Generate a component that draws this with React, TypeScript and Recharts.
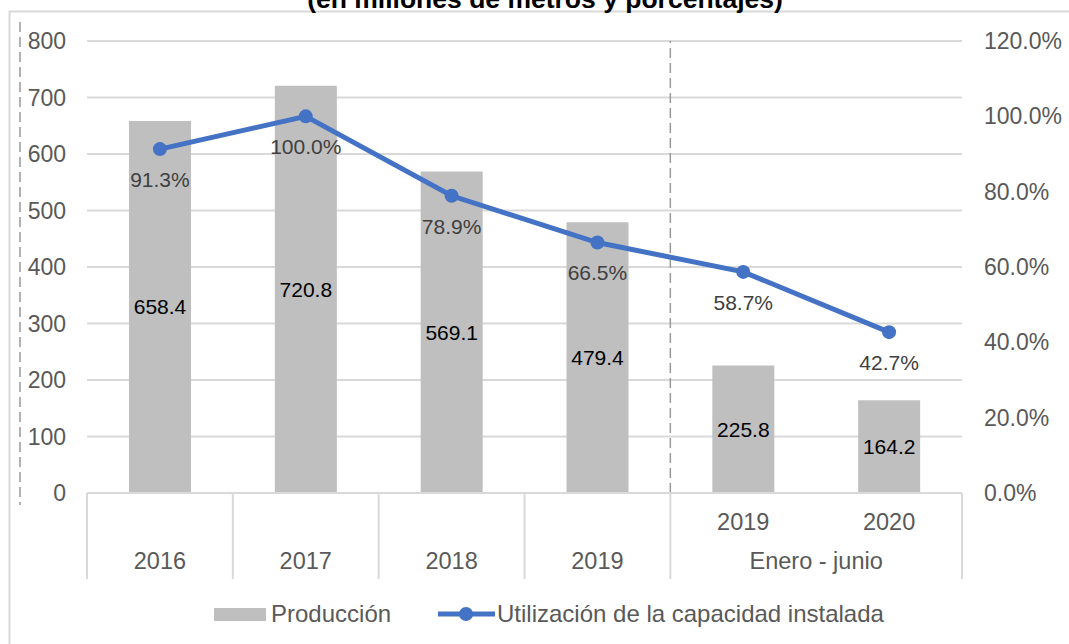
import React from 'react';
import {
  ComposedChart,
  Bar,
  Line,
  XAxis,
  YAxis,
  CartesianGrid,
  LabelList,
  ReferenceLine,
} from 'recharts';

const title = '(en millones de metros y porcentajes)';
const groupLabels = ['2016', '2017', '2018', '2019', 'Enero - junio', 'Enero - junio'];
const subLabels = ['', '', '', '', '2019', '2020'];
const produccion = [658.4, 720.8, 569.1, 479.4, 225.8, 164.2];
const utilizacion = [91.3, 100.0, 78.9, 66.5, 58.7, 42.7];
const leftTicks = [0, 100, 200, 300, 400, 500, 600, 700, 800];
const rightTicks = [0, 20, 40, 60, 80, 100, 120];
const barName = 'Producción';
const lineName = 'Utilización de la capacidad instalada';
const splitIndex = 4;

const data = groupLabels.map((g, i) => ({
  key: `${g}|${subLabels[i]}|${i}`,
  prod: produccion[i],
  util: utilizacion[i],
}));

const FONT = '"Liberation Sans", Arial, sans-serif';
const AXIS_COLOR = '#595959';
const GRID = '#d9d9d9';
const BAR = '#bfbfbf';
const LINE = '#4472c4';

const MultiTick = (props: any) => {
  const { x, y, payload } = props;
  const i = payload.index;
  const half = payload.offset || 72.9;
  const g = groupLabels[i];
  const isFirst = i === 0 || groupLabels[i - 1] !== g;
  const isLast = i === groupLabels.length - 1;
  let count = 0;
  if (isFirst) {
    for (let j = i; j < groupLabels.length && groupLabels[j] === g; j++) count++;
  }
  return (
    <g>
      {isFirst && (
        <line x1={x - half} x2={x - half} y1={y} y2={y + 86} stroke={GRID} strokeWidth={2} />
      )}
      {isLast && (
        <line x1={x + half} x2={x + half} y1={y} y2={y + 86} stroke={GRID} strokeWidth={2} />
      )}
      {subLabels[i] && (
        <text x={x} y={y + 37} textAnchor="middle" fill={AXIS_COLOR} fontSize={23.5}>
          {subLabels[i]}
        </text>
      )}
      {isFirst && (
        <text x={x + (count - 1) * half} y={y + 76} textAnchor="middle" fill={AXIS_COLOR} fontSize={23.5}>
          {g}
        </text>
      )}
    </g>
  );
};

export default function App() {
  return (
    <div
      style={{
        position: 'absolute',
        left: 0,
        top: 0,
        width: 1069,
        height: 644,
        background: '#fff',
        fontFamily: FONT,
        overflow: 'hidden',
      }}
    >
      <svg
        width={1069}
        height={644}
        style={{ position: 'absolute', left: 0, top: 0 }}
      >
        <rect x={9.5} y={11.5} width={1100} height={700} fill="none" stroke={GRID} strokeWidth={2} />
        <text x={545} y={8} textAnchor="middle" fontWeight="bold" fontSize={26.5} fill="#000">
          {title}
        </text>
        <line x1={20} x2={20} y1={22} y2={505} stroke="#999" strokeWidth={1.5} strokeDasharray="10 5" />
        <rect x={214} y={608} width={52} height={13} fill={BAR} />
        <text x={271} y={622} fontSize={24} fill={AXIS_COLOR}>{barName}</text>
        <line x1={438} x2={495} y1={614} y2={614} stroke={LINE} strokeWidth={5} />
        <circle cx={466} cy={614} r={7} fill={LINE} />
        <text x={497} y={622} fontSize={24} fill={AXIS_COLOR}>{lineName}</text>
      </svg>
      <div style={{ position: 'absolute', left: 0, top: 0 }}>
        <ComposedChart
          width={1069}
          height={644}
          data={data}
          margin={{ top: 41, right: 0, bottom: 65, left: 0 }}
          style={{ fontFamily: FONT }}
        >
          <CartesianGrid yAxisId="left" vertical={false} stroke={GRID} strokeWidth={2} />
          <XAxis
            dataKey="key"
            height={86}
            interval={0}
            tickLine={false}
            tickSize={0}
            tickMargin={0}
            axisLine={{ stroke: GRID, strokeWidth: 2 }}
            tick={<MultiTick />}
          />
          <YAxis
            yAxisId="left"
            orientation="left"
            width={87}
            domain={[0, 800]}
            ticks={leftTicks}
            axisLine={false}
            tickLine={false}
            tickSize={0}
            tickMargin={21}
            tick={{ fill: AXIS_COLOR, fontSize: 23 }}
          />
          <YAxis
            yAxisId="right"
            orientation="right"
            width={107}
            domain={[0, 120]}
            ticks={rightTicks}
            axisLine={false}
            tickLine={false}
            tickSize={0}
            tickMargin={22}
            tick={{ fill: AXIS_COLOR, fontSize: 23, textAnchor: 'start' }}
            tickFormatter={(v: number) => `${v.toFixed(1)}%`}
          />
          <ReferenceLine
            yAxisId="left"
            x={data[splitIndex].key}
            position="start"
            stroke="#999"
            strokeWidth={1.5}
            strokeDasharray="10 5"
          />
          <Bar yAxisId="left" dataKey="prod" name={barName} fill={BAR} barSize={62} isAnimationActive={false}>
            <LabelList
              dataKey="prod"
              position="center"
              fill="#000"
              fontSize={21}
              formatter={(v: any) => Number(v).toFixed(1)}
            />
          </Bar>
          <Line
            yAxisId="right"
            dataKey="util"
            name={lineName}
            stroke={LINE}
            strokeWidth={5}
            dot={{ r: 7, fill: LINE, stroke: LINE, strokeWidth: 0 }}
            activeDot={false}
            isAnimationActive={false}
          >
            <LabelList
              dataKey="util"
              position="bottom"
              offset={23}
              fill="#404040"
              fontSize={21}
              formatter={(v: any) => `${Number(v).toFixed(1)}%`}
            />
          </Line>
        </ComposedChart>
      </div>
    </div>
  );
}
